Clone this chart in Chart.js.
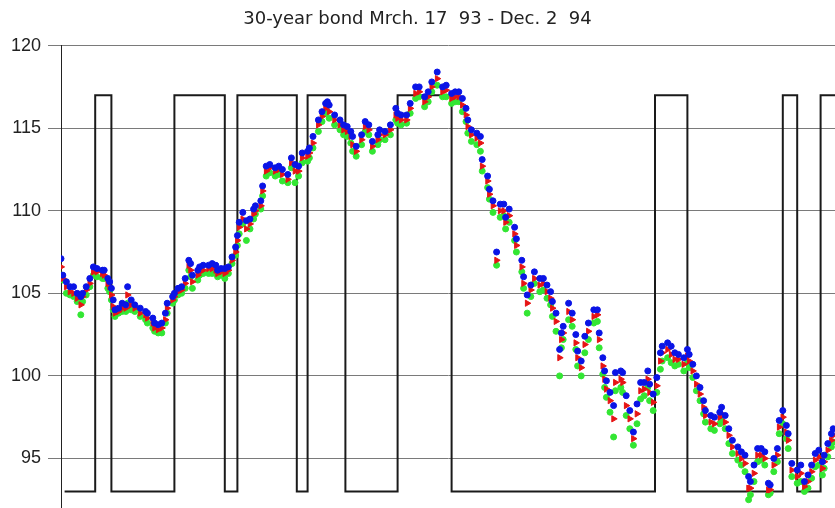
<!DOCTYPE html>
<html>
<head>
<meta charset="utf-8">
<script src="https://cdn.jsdelivr.net/npm/chart.js@4"></script>
<style>
  body { margin: 0; background: #fff; }
  #wrap { width: 835px; height: 508px; }
</style>
</head>
<body>
<div id="wrap"><canvas id="bond"></canvas></div>
<script>
// trading day index since Mrch. 17 93
const days = [0,1,3,5,7,9,11,12,14,16,18,20,23,24,26,27,28,29,30,32,34,36,37,39,41,44,47,48,51,52,54,56,58,59,62,63,65,67,69,71,72,73,76,77,79,82,84,86,87,89,91,93,95,97,98,99,101,103,105,107,108,111,112,114,116,119,121,123,126,128,130,132,134,137,138,140,143,145,147,148,149,152,155,157,159,161,162,164,167,169,171,173,176,177,180,183,186,187,189,192,194,197,199,202,204,206,209,212,214,217,219,221,223,225,226,228,231,233,234,237,238,240,242,244,246,247,249,252,253,256,257,259,261,263,266,268,270,272,273,275,277,278,279,282,284,286,287,289,291,293,296,298,299,301,302,303,305,307,308,311,312,314,316,318,320,322,324,326,327,329,331,333,334,337,339,341,343,346,348,349,351,353,355,357,358,361,363,366,367,369,371,373,376,378,380,382,383,385,387,389,391,393,394,396,398,399,401,403,404,406,409,411,413,415,417,419,421,423,424,426,428,429];

const high = [107.1,106.1,105.7,105.4,105.4,105.0,104.8,105.0,105.4,105.9,106.6,106.5,106.4,106.4,105.9,105.7,105.3,104.6,104.0,104.1,104.4,104.3,105.4,104.6,104.3,104.1,103.9,103.8,103.5,103.2,103.1,103.2,103.8,104.4,104.8,105.0,105.3,105.4,105.9,107.0,106.8,106.1,106.4,106.6,106.7,106.7,106.8,106.7,106.4,106.5,106.5,106.6,107.2,107.8,108.5,109.3,109.9,109.4,109.5,110.1,110.3,110.6,111.5,112.7,112.8,112.6,112.7,112.5,112.2,113.2,112.8,112.7,113.5,113.6,113.8,114.5,115.5,116.0,116.5,116.6,116.4,115.8,115.5,115.2,115.1,114.8,114.5,113.9,114.6,115.4,115.2,114.2,114.6,114.9,114.8,115.2,116.2,115.9,115.8,115.8,116.5,117.5,117.5,116.9,117.2,117.8,118.4,117.5,117.6,117.1,117.2,117.2,116.8,116.2,115.5,114.9,114.7,114.5,113.1,112.1,111.3,110.6,107.5,110.4,110.4,109.6,110.1,109.0,108.3,107.0,106.0,104.9,105.5,106.3,105.9,105.9,105.5,105.1,104.5,103.8,101.6,102.6,103.0,104.4,103.8,102.5,101.5,100.9,102.4,103.2,104.0,104.0,102.6,101.1,100.3,99.7,99.0,98.2,100.2,100.3,100.2,98.8,97.9,96.6,98.3,99.6,99.6,100.3,99.5,98.9,99.9,101.4,101.8,102.0,101.8,101.4,101.3,101.1,101.6,101.3,100.7,100.0,99.3,98.5,97.9,97.6,97.5,97.8,98.1,97.6,96.8,96.1,95.7,95.4,95.2,93.9,93.6,94.6,95.6,95.6,95.4,93.5,93.4,95.0,95.6,97.3,97.9,97.0,96.5,94.7,94.3,94.6,93.6,94.0,94.6,95.3,95.5,94.8,95.2,95.9,96.5,96.8];

const close = [106.6,105.9,105.4,105.1,105.0,104.7,104.3,104.8,105.2,105.6,106.3,106.3,106.2,106.1,105.6,105.4,104.9,104.2,103.8,103.9,104.1,104.1,104.9,104.3,104.1,103.8,103.7,103.5,103.2,102.9,102.8,102.9,103.4,104.1,104.6,104.8,105.1,105.2,105.6,106.7,106.4,105.7,106.1,106.3,106.4,106.5,106.5,106.4,106.2,106.3,106.2,106.4,107.0,107.5,108.2,109.0,109.5,108.9,109.2,109.8,110.0,110.3,111.2,112.4,112.6,112.4,112.5,112.2,111.9,112.9,112.4,112.4,113.2,113.3,113.5,114.1,115.2,115.7,116.2,116.3,116.0,115.5,115.2,114.9,114.8,114.5,114.0,113.6,114.3,115.1,114.9,113.9,114.3,114.6,114.6,114.9,115.8,115.6,115.5,115.5,116.2,117.1,117.2,116.6,116.9,117.5,118.0,117.2,117.3,116.8,116.9,116.9,116.4,115.8,115.1,114.6,114.4,114.1,112.7,111.8,111.0,110.3,107.0,110.0,110.0,109.3,109.7,108.6,107.9,106.6,105.6,104.4,105.2,105.9,105.5,105.6,105.1,104.7,104.1,103.3,101.1,102.2,102.6,103.9,103.4,102.0,101.1,100.5,101.9,102.7,103.6,103.7,102.2,100.6,99.8,99.2,98.5,97.4,99.6,99.8,99.6,98.2,97.4,96.2,97.7,99.1,99.2,99.8,99.0,98.4,99.4,100.9,101.4,101.6,101.3,101.0,101.0,100.7,101.2,100.9,100.3,99.5,98.9,98.1,97.6,97.2,97.1,97.5,97.7,97.2,96.4,95.7,95.3,95.0,94.7,93.2,93.2,94.1,95.2,95.2,95.0,93.1,93.1,94.6,95.2,96.9,97.5,96.6,96.1,94.3,93.9,94.1,93.3,93.6,94.2,94.9,95.1,94.4,94.8,95.5,96.1,96.4];

const low = [106.1,105.8,105.0,104.9,104.8,104.5,103.7,104.5,104.9,105.4,106.1,106.0,105.9,105.9,105.3,105.1,104.6,104.0,103.6,103.8,103.9,103.9,104.4,104.0,103.9,103.6,103.4,103.2,102.9,102.7,102.6,102.6,103.2,103.8,104.4,104.6,104.9,105.0,105.3,106.4,106.0,105.3,105.8,106.1,106.2,106.2,106.2,106.2,106.0,106.1,105.9,106.2,106.8,107.3,107.9,108.6,109.2,108.2,108.9,109.5,109.8,110.1,110.9,112.1,112.3,112.1,112.2,111.8,111.7,112.6,111.7,112.1,112.9,113.0,113.2,113.8,114.8,115.4,115.9,116.0,115.6,115.2,114.9,114.6,114.5,114.1,113.6,113.3,114.0,114.8,114.6,113.6,114.0,114.3,114.3,114.6,115.5,115.3,115.2,115.3,115.9,116.8,116.9,116.3,116.6,117.2,117.6,116.9,116.9,116.5,116.6,116.6,116.0,115.4,114.7,114.2,114.0,113.6,112.4,111.4,110.7,109.9,106.7,109.6,109.7,108.9,109.3,108.2,107.5,106.3,105.3,103.8,104.8,105.6,105.1,105.2,104.7,104.3,103.6,102.7,100.0,101.7,102.2,103.4,103.0,101.6,100.6,100.0,101.4,102.2,103.2,103.3,101.7,100.1,99.3,98.7,97.8,96.3,99.1,99.3,99.0,97.6,96.8,95.8,97.1,98.6,98.8,99.3,98.5,97.9,99.0,100.4,100.9,101.1,100.8,100.6,100.7,100.3,100.8,100.5,99.9,99.1,98.5,97.7,97.2,96.8,96.7,97.1,97.3,96.8,95.9,95.3,94.9,94.6,94.2,92.5,92.8,93.6,94.8,94.9,94.6,92.8,92.9,94.2,94.8,96.5,97.1,96.2,95.6,93.9,93.5,93.6,93.0,93.2,93.8,94.5,94.6,94.0,94.4,95.1,95.7,96.0];

// signal switches (day) and the level held until the next switch
const switchDays = [2,19,28,63,91,98,131,137,158,187,217,330,348,401,409,422,440];
const switchLevels = [93,117,93,117,93,117,93,117,93,117,93,117,93,117,93,117];

const yTicks = [95,100,105,110,115,120];

const toPoints = (ys) => days.map((d, i) => ({ x: d, y: ys[i] }));

const wave = [];
switchLevels.forEach((lv, i) => {
  wave.push({ x: switchDays[i], y: lv });
  wave.push({ x: switchDays[i + 1], y: lv });
});

new Chart(document.getElementById("bond"), {
  type: "scatter",
  data: {
    datasets: [
      {
        label: "High",
        data: toPoints(high),
        pointStyle: "circle",
        pointRadius: 3,
        backgroundColor: "#0a14e6",
        borderColor: "#0a14e6",
        borderWidth: 1
      },
      {
        label: "Close",
        data: toPoints(close),
        pointStyle: "triangle",
        rotation: 90,
        pointRadius: 3.6,
        backgroundColor: "#e61414",
        borderColor: "#e61414",
        borderWidth: 1
      },
      {
        label: "Low",
        data: toPoints(low),
        pointStyle: "circle",
        pointRadius: 3,
        backgroundColor: "#33e633",
        borderColor: "#33e633",
        borderWidth: 1
      },
      {
        label: "Signal",
        data: wave,
        showLine: true,
        pointRadius: 0,
        borderColor: "#1a1a1a",
        borderWidth: 2,
        tension: 0
      }
    ]
  },
  options: {
    responsive: true,
    maintainAspectRatio: false,
    animation: false,
    layout: { padding: 0, autoPadding: false },
    plugins: {
      legend: { display: false },
      tooltip: { enabled: false },
      title: {
        display: true,
        text: "30-year bond Mrch. 17  93 - Dec. 2  94",
        color: "#222",
        font: { family: "DejaVu Sans", size: 18, weight: "normal", lineHeight: 1.2 },
        padding: { top: 9, bottom: 15 }
      }
    },
    scales: {
      x: {
        type: "linear",
        display: false,
        min: 0,
        max: 430
      },
      y: {
        min: 92,
        max: 120,
        afterBuildTicks: (axis) => { axis.ticks = yTicks.map(v => ({ value: v })); },
        afterFit: (axis) => {
          axis.width = 61;
          axis.paddingTop = 0;
          axis.paddingBottom = 0;
        },
        border: { display: true, color: "#222", width: 1 },
        grid: { color: "#7a7a7a", lineWidth: 1, tickLength: 13, tickColor: "#7a7a7a" },
        ticks: {
          color: "#222",
          padding: 7,
          font: { family: "Liberation Sans, Arial", size: 18 }
        }
      }
    }
  }
});
</script>
</body>
</html>
